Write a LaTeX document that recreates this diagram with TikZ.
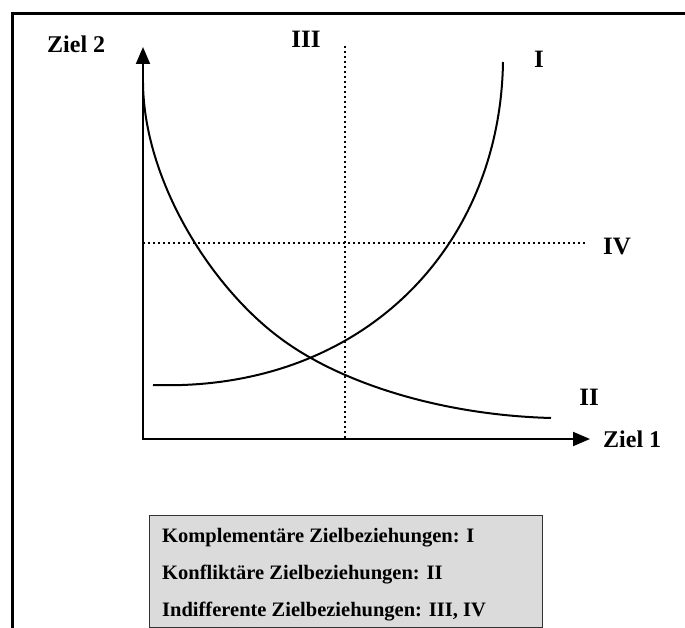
\documentclass[tikz,border=0pt]{standalone}
\usepackage{fontspec}
\setmainfont{Liberation Serif}
\usetikzlibrary{arrows.meta}

\begin{document}
\begin{tikzpicture}[x=1pt,y=-1pt]
\tikzstyle{every node}=[inner sep=0pt]
\tikzstyle{achse}=[line width=2pt]
\tikzstyle{kurve}=[line width=2pt]
\tikzstyle{punktiert}=[line width=2pt, dash pattern=on 2pt off 3pt]
\tikzstyle{ziel}=[font=\bfseries\fontsize{24}{26}\selectfont, anchor=base west]
\tikzstyle{roemisch}=[font=\bfseries\fontsize{25}{28}\selectfont, anchor=base]
\tikzstyle{legende}=[draw=black!80, line width=1pt, fill=black!14, rectangle]
\tikzstyle{zeile}=[font=\bfseries\fontsize{20.5}{24}\selectfont, anchor=base west]

\useasboundingbox (0,0) rectangle (685,628);

% Rahmen
\coordinate (r1) at (685,14);
\coordinate (r2) at (12,14);
\coordinate (r3) at (12,628);
\draw[line width=3pt] (r1) -- (r2) -- (r3);

% Achsen
\coordinate (o) at (143,439);
\coordinate (ytip) at (143,47);
\coordinate (xtip) at (590,439);
\draw[achse, {Triangle[length=17pt,width=14pt]}-{Triangle[length=17pt,width=14pt]}] (ytip) -- (o) -- (xtip);

\node[ziel] (z2) at (47,53) {Ziel 2};
\node[ziel] (z1) at (603,447) {Ziel 1};

% indifferent
\coordinate (d3a) at (345,46);
\coordinate (d3b) at (345,439);
\coordinate (d4a) at (143,243);
\coordinate (d4b) at (585,243);
\draw[punktiert] (d3a) -- (d3b);
\draw[punktiert] (d4a) -- (d4b);

% komplementaer
\coordinate (i0) at (153,385);
\coordinate (i1) at (360,392);
\coordinate (i2) at (500,250);
\coordinate (i3) at (503,62);
\draw[kurve] (i0) .. controls (i1) and (i2) .. (i3);

% konfliktaer
\coordinate (k0) at (143,83);
\coordinate (k1) at (280,338);
\coordinate (k2) at (551,418);
\draw[kurve] (k0) .. controls (144,180) and (210,286) .. (k1)
                  .. controls (340,383) and (441,415) .. (k2);

\node[roemisch] (n1) at (539,68) {I};
\node[roemisch] (n2) at (589,405) {II};
\node[roemisch] (n3) at (306,48) {III};
\node[roemisch] (n4) at (617,255) {IV};

% Legende
\node[legende, minimum width=393pt, minimum height=112pt] (box) at (345.5,571) {};
\node[zeile] (t1) at (162,542) {Komplementäre Zielbeziehungen: I};
\node[zeile] (t2) at (162,579) {Konfliktäre Zielbeziehungen: II};
\node[zeile] (t3) at (162,616) {Indifferente Zielbeziehungen: III, IV};

\end{tikzpicture}
\end{document}
